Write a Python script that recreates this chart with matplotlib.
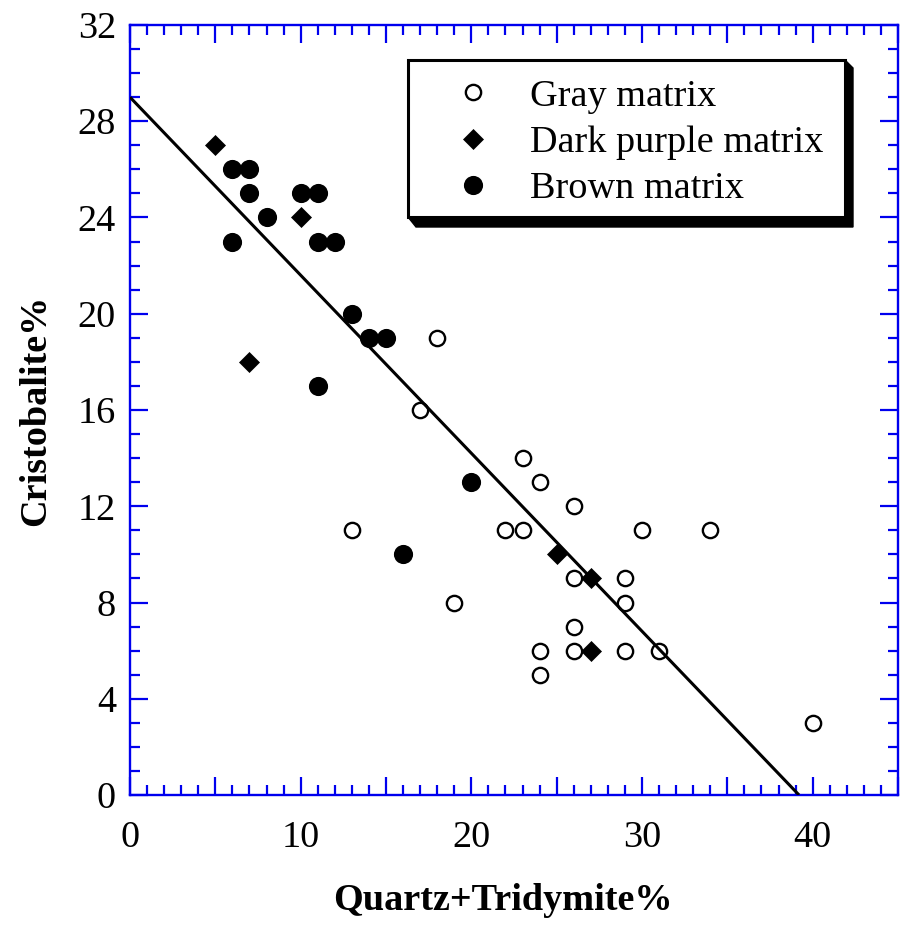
import matplotlib
matplotlib.use("Agg")
import matplotlib.pyplot as plt
from matplotlib.ticker import MultipleLocator, FixedLocator, FuncFormatter
from matplotlib.patches import Polygon, Rectangle

# ---- data ----
gray_x = [18, 17, 23, 24, 26, 13, 22, 23, 30, 34, 26, 29, 19, 29, 26, 24, 26, 29, 31, 24, 40]
gray_y = [19, 16, 14, 13, 12, 11, 11, 11, 11, 11, 9, 9, 8, 8, 7, 6, 6, 6, 6, 5, 3]

purple_x = [5, 10, 7, 25, 27, 27]
purple_y = [27, 24, 18, 10, 9, 6]

brown_x = [6, 7, 7, 8, 6, 10, 11, 11, 12, 13, 14, 15, 11, 20, 16]
brown_y = [26, 26, 25, 24, 23, 25, 25, 23, 23, 20, 19, 19, 17, 13, 10]

fit_x = [0, 39.2]
fit_y = [29, 0]

x_labels = [0, 10, 20, 30, 40]
y_labels = [0, 4, 8, 12, 16, 20, 24, 28, 32]

series_names = ["Gray matrix", "Dark purple matrix", "Brown matrix"]

# ---- figure ----
plt.rcParams["font.family"] = ["Liberation Serif", "DejaVu Serif"]
FS = 27.5
BLUE = "#0000ee"

W, H = 904, 930
fig = plt.figure(figsize=(W / 100, H / 100), dpi=100)
L, R, T, B = 130, 898, 25, 795
ax = fig.add_axes([L / W, (H - B) / H, (R - L) / W, (B - T) / H])

ax.plot(gray_x, gray_y, linestyle="none", marker="o", ms=11, mfc="white",
        mec="black", mew=1.7, zorder=2, label=series_names[0])
ax.plot(purple_x, purple_y, linestyle="none", marker="D", ms=9.8, mfc="black",
        mec="black", mew=0.5, zorder=2, label=series_names[1])
ax.plot(brown_x, brown_y, linestyle="none", marker="o", ms=13.8, mfc="black",
        mec="black", mew=0, zorder=2, label=series_names[2])
ax.plot(fit_x, fit_y, color="black", lw=2.2, zorder=3, solid_capstyle="butt")

ax.set_xlim(0, 45)
ax.set_ylim(0, 32)

ax.xaxis.set_major_locator(MultipleLocator(5))
ax.xaxis.set_minor_locator(MultipleLocator(1))
ax.xaxis.set_major_formatter(FuncFormatter(
    lambda v, p: f"{int(round(v))}" if int(round(v)) in x_labels else ""))
ax.yaxis.set_major_locator(FixedLocator(y_labels))
ax.yaxis.set_minor_locator(MultipleLocator(1))
ax.yaxis.set_major_formatter(FuncFormatter(lambda v, p: f"{int(round(v))}"))

ax.tick_params(which="both", direction="in", top=True, right=True,
               color=BLUE, width=1.6, labelsize=FS, labelcolor="black")
ax.tick_params(which="major", length=13)
ax.tick_params(which="minor", length=7.2)
ax.tick_params(axis="x", which="major", pad=18)
ax.tick_params(axis="y", which="major", pad=10)

for s in ax.spines.values():
    s.set_color(BLUE)
    s.set_linewidth(1.7)

ax.set_xlabel("Quartz+Tridymite%", fontsize=FS, fontweight="bold")
ax.set_ylabel("Cristobalite%", fontsize=FS, fontweight="bold")
ax.xaxis.set_label_coords(0.485, -0.114)
ax.yaxis.set_label_coords(-0.100, 0.5)

# ---- legend box with 3D shadow ----
def px(xp, yp):
    return ((xp - L) / (R - L), (B - yp) / (B - T))

shadow = Polygon([px(845, 60), px(853, 68), px(853, 227), px(416, 227), px(408, 217)],
                 closed=True, transform=ax.transAxes, facecolor="black",
                 edgecolor="black", zorder=5, clip_on=False)
ax.add_patch(shadow)
x0, y0 = px(408, 217)
x1, y1 = px(845, 60)
frame = Rectangle((x0, y0), x1 - x0, y1 - y0, transform=ax.transAxes,
                  facecolor="white", edgecolor="black", lw=2.2, zorder=6,
                  clip_on=False)
ax.add_patch(frame)

leg = ax.legend(loc="upper left", bbox_to_anchor=px(454, 79), frameon=False,
                fontsize=FS, numpoints=1, handlelength=1.0, handletextpad=1.0,
                borderpad=0, borderaxespad=0, labelspacing=0.30)
leg.set_zorder(7)

fig.savefig("out.png", dpi=100)
